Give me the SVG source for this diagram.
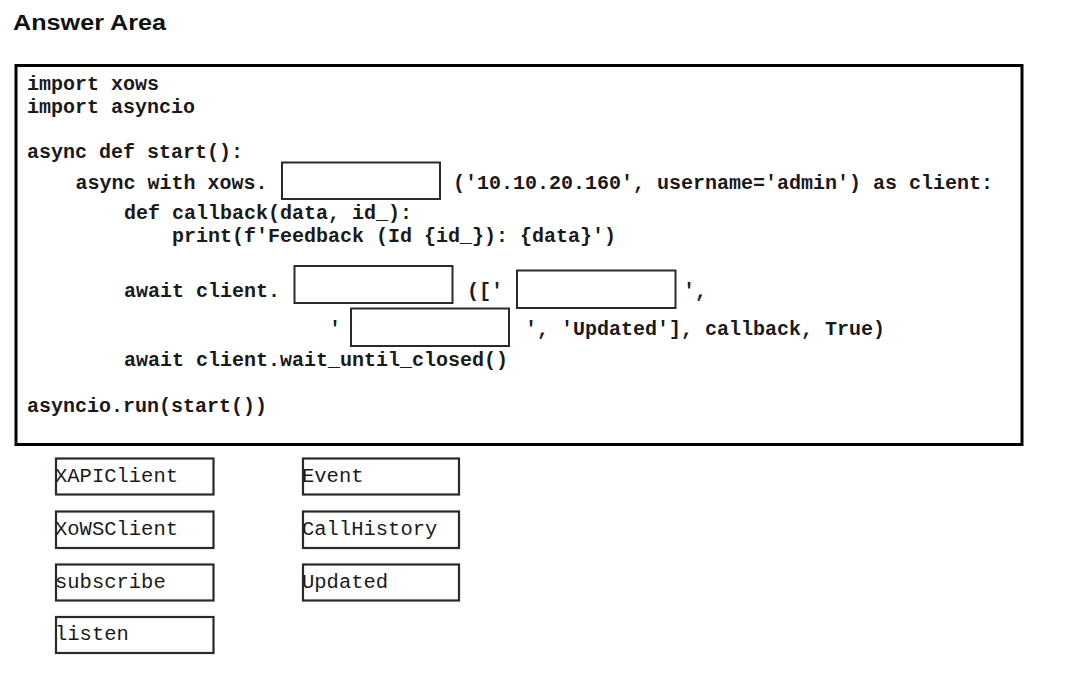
<svg xmlns="http://www.w3.org/2000/svg" width="1087" height="673" viewBox="0 0 1087 673">
<style>
.title{font-family:"Liberation Sans",Arial,sans-serif;font-weight:bold;font-size:22px;fill:#111}
.code{font-family:"Liberation Mono","Courier New",monospace;font-weight:bold;font-size:20px;fill:#1a1a1a;white-space:pre}
.opt{font-family:"Liberation Mono","Courier New",monospace;font-size:20.5px;fill:#1a1a1a}
.frame{fill:#fff;stroke:#000;stroke-width:3}
.blank{fill:#fff;stroke:#2a2a2a;stroke-width:2}
.tile{fill:#fff;stroke:#2a2a2a;stroke-width:2.2}
</style>
<rect x="0" y="0" width="1087" height="673" fill="#fff"/>
<text class="title" x="13" y="29.5" textLength="153" lengthAdjust="spacingAndGlyphs">Answer Area</text>
<g id="code-area">
<rect class="frame" x="16" y="65.5" width="1006" height="379"/>
<text class="code" x="27" y="90">import xows</text>
<text class="code" x="27" y="113">import asyncio</text>
<text class="code" x="27" y="158">async def start():</text>
<text class="code" x="75.5" y="189">async with xows.</text>
<text class="code" x="453" y="189">('10.10.20.160', username='admin') as client:</text>
<text class="code" x="124" y="219">def callback(data, id_):</text>
<text class="code" x="172" y="242">print(f'Feedback (Id {id_}): {data}')</text>
<text class="code" x="124" y="297">await client.</text>
<text class="code" x="467" y="297">(['</text>
<text class="code" x="683" y="297">',</text>
<text class="code" x="329" y="335">'</text>
<text class="code" x="525" y="335">', 'Updated'], callback, True)</text>
<text class="code" x="124" y="366">await client.wait_until_closed()</text>
<text class="code" x="27" y="412">asyncio.run(start())</text>
</g>
<g id="blank-1"><rect class="blank" x="282" y="162.5" width="158" height="36.5"/></g>
<g id="blank-2"><rect class="blank" x="294.5" y="266" width="158" height="37"/></g>
<g id="blank-3"><rect class="blank" x="517" y="270.5" width="158.5" height="37.5"/></g>
<g id="blank-4"><rect class="blank" x="351" y="308.5" width="158" height="37.5"/></g>
<g id="opt-xapiclient"><rect class="tile" x="56" y="458.5" width="157.5" height="36"/><text class="opt" x="55" y="482">XAPIClient</text></g>
<g id="opt-xowsclient"><rect class="tile" x="56" y="511.5" width="157.5" height="36.5"/><text class="opt" x="55" y="534.5">XoWSClient</text></g>
<g id="opt-subscribe"><rect class="tile" x="56" y="564.5" width="157.5" height="36"/><text class="opt" x="55" y="588">subscribe</text></g>
<g id="opt-listen"><rect class="tile" x="56" y="617" width="157.5" height="36"/><text class="opt" x="55" y="639.5">listen</text></g>
<g id="opt-event"><rect class="tile" x="303" y="458.5" width="156" height="36"/><text class="opt" x="302" y="482">Event</text></g>
<g id="opt-callhistory"><rect class="tile" x="303" y="511.5" width="156" height="36.5"/><text class="opt" x="302" y="534.5">CallHistory</text></g>
<g id="opt-updated"><rect class="tile" x="303" y="564.5" width="156" height="36"/><text class="opt" x="302" y="588">Updated</text></g>
<g id="connectors"></g>
</svg>
